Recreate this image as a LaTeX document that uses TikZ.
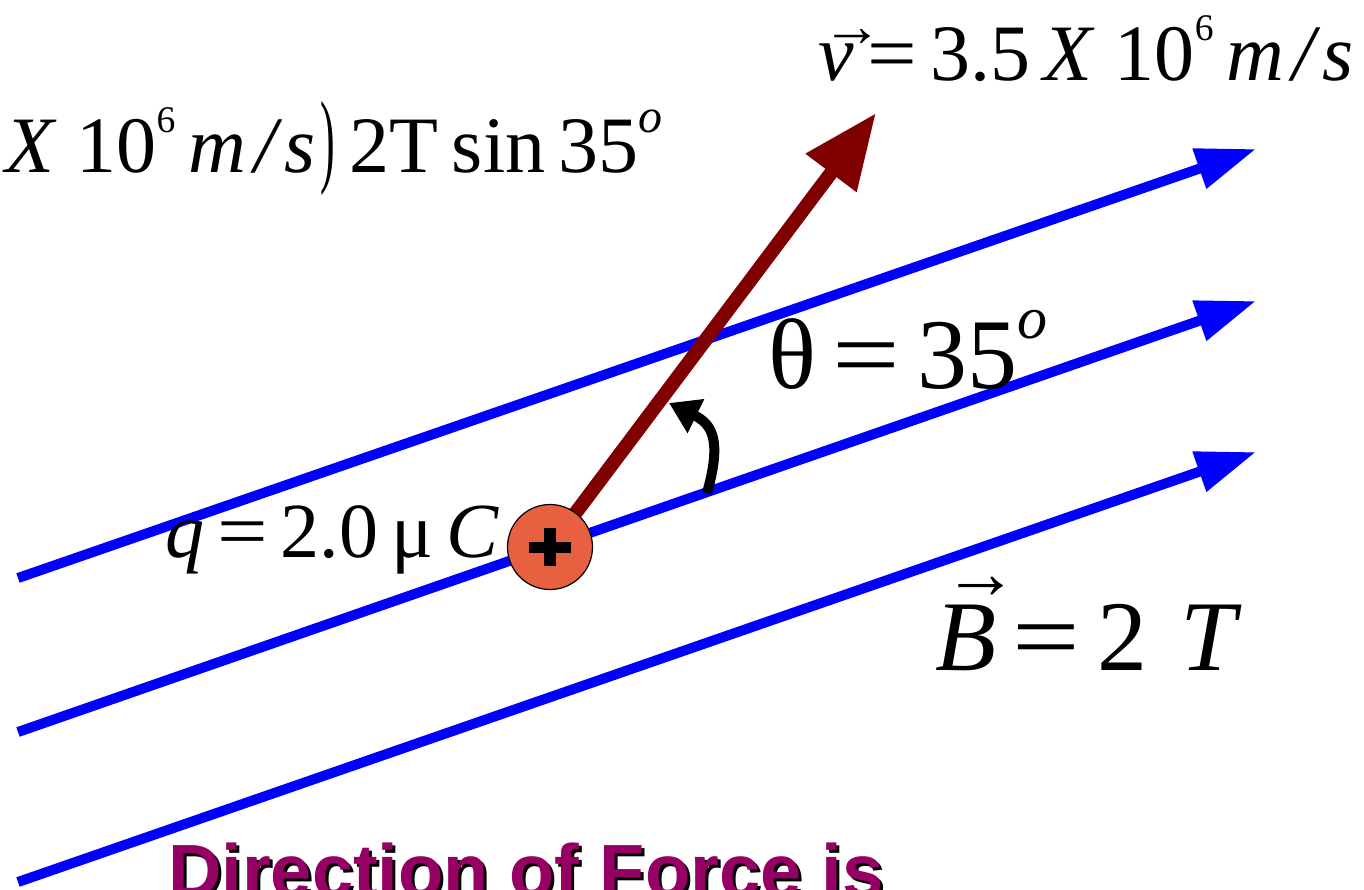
\documentclass[tikz,border=0pt]{standalone}
\usepackage{graphicx}
\usepackage{fontspec}
\setmainfont{Liberation Serif}
\newfontfamily\arialfont{Liberation Sans}
\usetikzlibrary{arrows.meta}
\definecolor{fieldblue}{RGB}{0,0,255}
\definecolor{velred}{RGB}{128,0,0}
\definecolor{chargefill}{RGB}{233,96,64}
\definecolor{forcepurple}{RGB}{150,0,100}
\newcommand\sups[1]{\raisebox{0.5em}{\scalebox{0.47}{#1}}}
\newcommand\supo{\raisebox{0.5em}{\scalebox{0.6}{\textit{o}}}}
\newcommand\eqs[1][1.2]{\scalebox{#1}[1]{=}}
\newcommand\arrover[3]{\rlap{\kern#1\raisebox{#2}{\scalebox{0.75}{→}}}#3}
\newcommand\mps{\textit{m\kern0.1em/\kern0.1em s}}
\tikzset{
  fieldline/.style={line width=10pt, color=fieldblue, -{Triangle[length=60pt,width=40pt]}},
  velarrow/.style={line width=14pt, color=velred, -{Triangle[length=75pt,width=60pt]}},
  anglearrow/.style={line width=10pt, color=black, -{Triangle[length=30pt,width=36pt]}},
  chargenode/.style={circle, draw=black, line width=1.2pt, fill=chargefill, minimum size=85pt, inner sep=0pt},
  lbl/.style={anchor=base west, inner sep=0pt, text=black},
  dirtext/.style={anchor=base west, inner sep=0pt, font=\arialfont\bfseries\fontsize{74}{80}\selectfont},
}
\begin{document}
\begin{tikzpicture}[x=1pt,y=-1pt]
\useasboundingbox (0,0) rectangle (1364,889);
\clip (0,0) rectangle (1364,889);
% field lines
\coordinate (L1a) at (18,578); \coordinate (L1b) at (1256,149);
\coordinate (L2a) at (18,732); \coordinate (L2b) at (1256,301);
\coordinate (L3a) at (18,882); \coordinate (L3b) at (1256,452);
\draw[fieldline] (L1a) -- (L1b);
\draw[fieldline] (L2a) -- (L2b);
\draw[fieldline] (L3a) -- (L3b);
% velocity
\coordinate (qc) at (550,547);
\coordinate (vtip) at (876,113);
\draw[velarrow] (qc) -- (vtip);
% charge
\node[chargenode] (q) at (qc) {};
\draw[line width=11pt] ([xshift=-21pt]q.center) -- ([xshift=21pt]q.center);
\draw[line width=12pt] ([yshift=-19pt]q.center) -- ([yshift=19pt]q.center);
% angle arrow
\coordinate (aa) at (707,493);
\coordinate (ab) at (669,403);
\draw[anglearrow] (aa) .. controls (722,440) and (712,424) .. (ab);
% labels
\node[lbl, font=\fontsize{80}{90}\selectfont] (vlab) at (818,80)
  {\arrover{0.05em}{0.42em}{\textit{v}}\,\eqs[1.1]\,3.5\,\textit{X}\ 10\sups{6}\,\mps};
\node[lbl, font=\fontsize{80}{90}\selectfont] (flab) at (5,172)
  {\textit{X}\ 10\sups{6}\,\mps\kern0.06em\raisebox{-0.02em}{\scalebox{0.55}[1.3]{)}}\kern0.18em 2T\,sin\,35\supo};
\node[lbl, font=\fontsize{100}{110}\selectfont] (thlab) at (768,388)
  {θ\,\eqs\,35\supo};
\node[lbl, font=\fontsize{78}{90}\selectfont] (qlab) at (165,557)
  {\textit{q}\,\eqs[1.15]\,2.0\,μ\,\textit{C}};
\node[lbl, font=\fontsize{100}{110}\selectfont] (blab) at (935,670)
  {\arrover{0.08em}{0.72em}{\textit{B}}\,\eqs\,2\,\,\textit{T}};
\node[dirtext, text=black] (dirshadow) at (171,899) {Direction of Force is};
\node[dirtext, text=forcepurple] (dirlab) at (168,896) {Direction of Force is};
\end{tikzpicture}
\end{document}
